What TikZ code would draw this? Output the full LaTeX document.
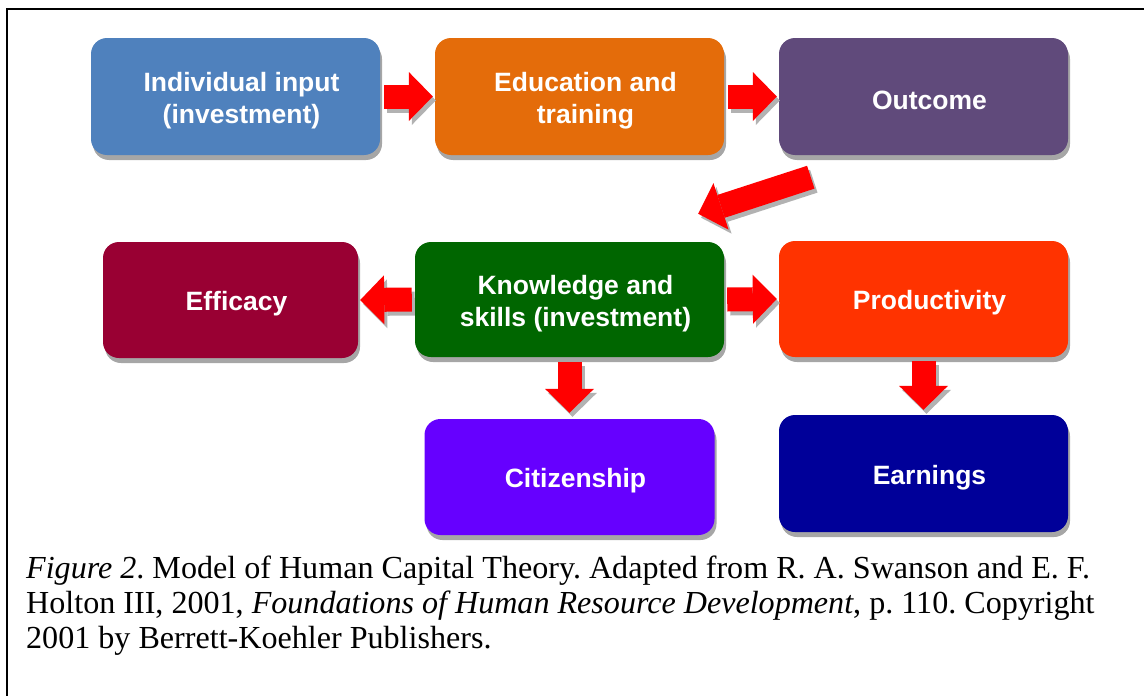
\documentclass[tikz,border=0pt]{standalone}
\usepackage{fontspec}
\setmainfont{Liberation Serif}
\newfontfamily\boxfont{Liberation Sans}
\usetikzlibrary{arrows.meta,calc,shadows}

\definecolor{inputblue}{HTML}{4F81BD}
\definecolor{trainorange}{HTML}{E46C0A}
\definecolor{outpurple}{HTML}{604A7B}
\definecolor{effmaroon}{HTML}{990033}
\definecolor{skillgreen}{HTML}{006600}
\definecolor{prodred}{HTML}{FF3300}
\definecolor{citviolet}{HTML}{6600FF}
\definecolor{earnnavy}{HTML}{000099}
\definecolor{flowred}{HTML}{FF0000}

\tikzset{
  box/.style={fill=#1, rounded corners=16pt, minimum width=289pt, minimum height=117pt,
    drop shadow={shadow xshift=2pt, shadow yshift=-5pt, fill=black!35, opacity=1}},
  boxtext/.style={xshift=6pt, yshift=-4pt, align=center, text=white,
    font=\boxfont\bfseries\fontsize{26.5}{32}\selectfont},
  flow/.style={draw=flowred, line width=24pt, -{Triangle[width=49pt,length=24pt,line width=0pt]}},
  flowshadow/.style={flow, draw=black!30, transform canvas={shift={(3pt,-4pt)}}},
  caption/.style={align=left, inner sep=0pt, anchor=north west,
    font=\fontsize{32.1}{35}\selectfont}
}

% block arrow with its shadow
\newcommand{\redarrow}[2]{%
  \draw[flowshadow] #1 -- #2;
  \draw[flow] #1 -- #2;}

\begin{document}
\frenchspacing
\begin{tikzpicture}[x=1pt,y=-1pt]
  \useasboundingbox (0,0) rectangle (1144,696);
  \draw[line width=1.5pt] (7,9) rectangle (1170,720);

  % top row
  \node[box=inputblue, label={[boxtext]center:{Individual input\\(investment)}}] (input) at (235.5,96.5) {};
  \node[box=trainorange, label={[boxtext]center:{Education and\\training}}] (training) at (579.5,96.5) {};
  \node[box=outpurple, label={[boxtext]center:Outcome}] (outcome) at (923.5,96.5) {};

  % middle row
  \node[box=effmaroon, minimum width=255pt, minimum height=116pt,
    label={[boxtext]center:Efficacy}] (efficacy) at (230.5,300) {};
  \node[box=skillgreen, minimum width=309pt, minimum height=115pt,
    label={[boxtext]center:{Knowledge and\\skills (investment)}}] (knowledge) at (569.5,299.5) {};
  \node[box=prodred, minimum height=116pt, label={[boxtext]center:Productivity}] (productivity) at (923.5,299) {};

  % bottom row
  \node[box=citviolet, minimum width=290pt, minimum height=116pt,
    label={[boxtext]center:Citizenship}] (citizenship) at (569.5,477) {};
  \node[box=earnnavy, label={[boxtext]center:Earnings}] (earnings) at (923.5,473.5) {};

  % arrows
  \redarrow{($(input.east)+(4,0)$)}{($(training.west)+(-2,0)$)}
  \redarrow{($(training.east)+(4,0)$)}{($(outcome.west)+(-2,0)$)}
  \redarrow{($(outcome.south west)+(32,22)$)}{($(knowledge.north east)+(-26,-28)$)}
  \redarrow{($(knowledge.west)+(-3,0)$)}{($(efficacy.east)+(2,0)$)}
  \redarrow{($(knowledge.east)+(3,0)$)}{($(productivity.west)+(-2,0)$)}
  \redarrow{($(knowledge.south)+(0,5)$)}{($(citizenship.north)+(0,-6)$)}
  \redarrow{($(productivity.south)+(0,4)$)}{($(earnings.north)+(0,-5)$)}

  \node[caption] (cap) at (26,556) {\textit{Figure 2}. Model of Human Capital Theory. Adapted from R. A. Swanson and E. F.\\
    Holton III, 2001, \textit{Foundations of Human Resource Development}, p. 110. Copyright\\
    2001 by Berrett-Koehler Publishers.};
\end{tikzpicture}
\end{document}
